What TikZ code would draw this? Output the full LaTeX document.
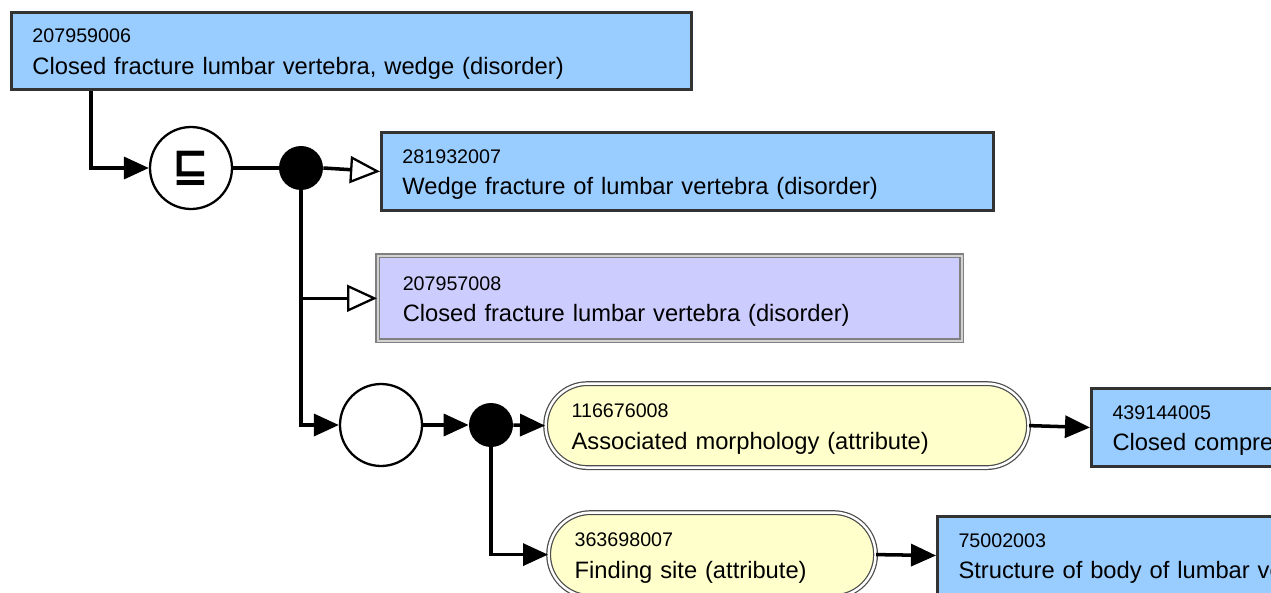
\documentclass[tikz,border=0pt]{standalone}
\usepackage{fontspec}
\setmainfont{Liberation Sans}
\newfontfamily\symfont{DejaVu Sans}
\usetikzlibrary{arrows.meta}

\definecolor{conceptblue}{HTML}{99CCFF}
\definecolor{primitivepurple}{HTML}{CCCCFF}
\definecolor{attryellow}{HTML}{FFFFCC}
\definecolor{edgegray}{HTML}{333333}

\newcommand{\sctid}[1]{{\fontsize{11.2}{18}\selectfont\rule{0pt}{11.5pt}#1}}

\tikzset{
  concept/.style={rectangle, draw=edgegray, line width=1.7pt, fill=conceptblue,
    anchor=north west, align=left, inner xsep=0.42cm, inner ysep=0pt,
    font=\fontsize{13.5}{18}\selectfont},
  primitive/.style={concept, fill=primitivepurple, draw=gray, double=gray!35,
    double distance=1pt, line width=0.9pt, inner xsep=0.5cm},
  attribute/.style={concept, fill=attryellow, rounded corners=0.84cm,
    draw=gray!60!black, double=white, double distance=1.4pt, line width=0.7pt,
    inner xsep=0.52cm},
  opcircle/.style={shape=circle, draw=black, line width=1.3pt, fill=white,
    minimum size=1.64cm, inner sep=0pt},
  joindot/.style={shape=circle, fill=black, minimum size=0.88cm, inner sep=0pt},
  link/.style={line width=2pt, -{Triangle[length=0.5cm, width=0.44cm]}},
  isa/.style={line width=2pt,
    -{Triangle[open, length=0.6cm, width=0.54cm, line width=1.3pt, fill=white]}},
}

\begin{document}
\begin{tikzpicture}[x=0.02cm, y=-0.02cm]
  \useasboundingbox (0,0) rectangle (1271,592);
  \clip (0,0) rectangle (1271,592);
  % Drawing concept 207959006
  \node[concept, text width=12.76cm, minimum height=1.54cm] (wedge) at (10,11) {\sctid{207959006}\\Closed fracture lumbar vertebra, wedge (disorder)};
  % Marking subsumption and its junction
  \node[opcircle, font=\symfont\bfseries\fontsize{25}{25}\selectfont] (subs) at (191,168) {⊑};
  \node[joindot] (isajoin) at (301,168) {};
  % Drawing parent concepts
  \node[concept, text width=11.4cm, minimum height=1.56cm] (wedgefx) at (380,131) {\sctid{281932007}\\Wedge fracture of lumbar vertebra (disorder)};
  \node[primitive, text width=10.68cm, minimum height=1.7cm] (closedfx) at (377,255) {\sctid{207957008}\\Closed fracture lumbar vertebra (disorder)};
  % Marking role group and its junction
  \node[opcircle] (group) at (381,425) {};
  \node[joindot] (rolejoin) at (491,425) {};
  % Drawing attributes
  \node[attribute, text width=8.62cm, minimum height=1.68cm] (morph) at (545,383) {\sctid{116676008}\\Associated morphology (attribute)};
  \node[attribute, text width=5.5cm, minimum height=1.68cm] (site) at (548,512) {\sctid{363698007}\\Finding site (attribute)};
  % Drawing attribute values
  \node[concept, text width=6cm, minimum height=1.56cm] (compfx) at (1090,387) {\sctid{439144005}\\Closed compre};
  \node[concept, text width=8cm, minimum height=1.56cm] (lumbody) at (936,515) {\sctid{75002003}\\Structure of body of lumbar ve};
  % Drawing connectors
  \draw[link] (wedge.south west) ++(81,0) |- (subs.west);
  \draw[line width=2pt] (subs.east) -- (isajoin.west);
  \draw[isa] (isajoin.east) -- (wedgefx.west);
  \draw[isa] (isajoin.south) |- (closedfx.west);
  \draw[link] (isajoin.south) |- (group.west);
  \draw[link] (group.east) -- (rolejoin.west);
  \draw[link] (rolejoin.east) -- (morph.west);
  \draw[link] (rolejoin.south) |- (site.west);
  \draw[link] (morph.east) -- (compfx.west);
  \draw[link] (site.east) -- (lumbody.west);
\end{tikzpicture}
\end{document}
